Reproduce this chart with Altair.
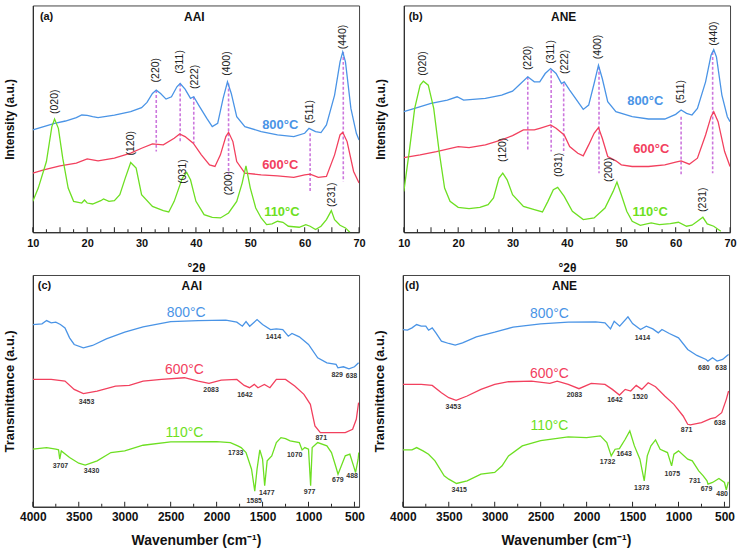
import altair as alt
import pandas as pd

FONT = "Liberation Sans"
BLUE = "#4a94e6"
RED = "#f2405e"
GREEN = "#6ddf22"
PINK = "#cc77dd"
BLUE_T = "#3a63c8"
RED_T = "#ee3050"
GREEN_T = "#66dd11"

# ---------------- (a) XRD AAI ----------------
A800_X = [10, 12, 14, 16, 18, 19, 20, 21, 22, 25, 28, 30, 31, 32, 32.7, 33.5, 34.5, 35.5, 36.5, 37.1, 38, 39, 39.6, 40.5, 42, 43, 44, 45, 45.8, 46.5, 47.5, 49, 52, 55, 58, 60, 60.8, 62, 63, 64, 65.5, 66.5, 67, 67.5, 68.5, 69.5, 70]
A800_Y = [308, 318, 328, 335, 345, 353, 352, 348, 345, 353, 363, 375, 391, 418, 428, 418, 401, 408, 438, 448, 431, 403, 408, 383, 343, 318, 328, 403, 453, 418, 348, 318, 303, 293, 288, 298, 313, 303, 300, 323, 413, 513, 543, 513, 373, 298, 278]
A600_X = [10, 12, 15, 18, 20, 22, 25, 28, 30, 32, 34, 36, 37, 38, 39.5, 41, 42.5, 43.5, 44.5, 45.5, 46, 46.8, 47.5, 49, 52, 55, 58, 60, 61, 62.5, 64, 65.5, 66.5, 67, 67.8, 69, 70]
A600_Y = [178, 188, 200, 208, 221, 215, 223, 238, 253, 266, 263, 283, 296, 288, 268, 233, 203, 198, 233, 288, 301, 273, 213, 178, 173, 170, 165, 173, 175, 165, 168, 233, 293, 301, 273, 183, 148]
A110_X = [10, 11, 12.5, 13.5, 14, 14.7, 15.5, 16.5, 17.5, 19, 19.5, 20, 21, 22.5, 23, 24, 25, 26, 27, 28, 29, 30, 32, 34, 35, 36, 37.5, 38.3, 39, 40, 41.5, 43, 44.5, 46, 47.5, 48.5, 49.2, 50, 51, 52, 53, 54, 55, 56, 57, 59, 60.2, 61, 62, 63, 64, 64.9, 65.5, 66.5, 67.5, 68.3]
A110_Y = [93, 133, 213, 318, 341, 313, 223, 133, 93, 88, 97, 88, 85, 95, 100, 93, 95, 113, 163, 210, 193, 113, 78, 65, 61, 93, 163, 180, 158, 93, 53, 45, 43, 58, 93, 148, 200, 133, 73, 43, 23, 25, 33, 30, 18, 15, 23, 18, 8, 18, 38, 65, 38, 21, 13, 0]
A_RULE_X = [32.7, 37.1, 39.6, 46.0, 61.0, 67.1]
A_RULE_Y1 = [428, 448, 408, 448, 298, 543]
A_RULE_Y2 = [243, 273, 268, 173, 118, 153]
A_HKL = ["(020)", "(220)", "(311)", "(222)", "(400)", "(440)", "(511)", "(120)", "(031)", "(200)", "(231)"]
A_HKL_X = [14.0, 32.7, 37.1, 39.9, 45.8, 67.0, 61.0, 28.0, 37.6, 46.1, 65.0]
A_HKL_Y = [393, 488, 513, 468, 508, 588, 363, 268, 183, 148, 113]
A_T_X = [55.5, 55.5, 55.8]
A_T_Y = [323, 203, 61]

# ---------------- (b) XRD ANE ----------------
B800_X = [10, 12, 15, 18, 19.8, 21, 25, 28, 30, 31.5, 32.8, 34, 35, 36, 37, 38, 39, 39.5, 40.5, 42, 43, 44, 45, 45.8, 46.5, 47.5, 49, 52, 55, 58, 60, 61, 62, 63, 64, 65.5, 66.5, 67, 67.5, 68.5, 69.5, 70]
B800_Y = [363, 373, 388, 398, 408, 398, 403, 413, 425, 448, 468, 453, 453, 478, 493, 478, 448, 453, 428, 393, 370, 383, 448, 503, 463, 393, 363, 348, 341, 341, 355, 368, 358, 353, 373, 453, 533, 550, 528, 413, 348, 333]
B600_X = [10, 13, 16, 20, 22, 25, 28, 30, 32, 34, 35, 37, 38, 39.5, 40.5, 42, 43, 44, 45, 45.8, 46.5, 47.5, 49, 50, 52, 55, 58, 60, 61, 62.5, 64, 65.5, 66.5, 67, 67.8, 69, 70]
B600_Y = [225, 233, 243, 258, 255, 263, 278, 291, 308, 308, 313, 323, 313, 293, 258, 238, 230, 263, 298, 315, 283, 228, 215, 203, 198, 198, 203, 211, 215, 205, 223, 293, 348, 363, 333, 243, 198]
B110_X = [10, 11, 12, 13, 13.6, 14.5, 15.5, 16.5, 17.5, 18.5, 20, 22, 24, 25.5, 26.5, 27.5, 28.2, 29, 30, 32, 34, 35.5, 36.5, 37.5, 38.3, 39.5, 41, 43, 45, 47, 48.5, 49.2, 50, 51, 52, 53.5, 55.5, 57, 59, 60.5, 62, 63, 64, 65, 65.8, 67, 68.3]
B110_Y = [123, 243, 373, 443, 455, 443, 373, 243, 133, 93, 75, 71, 75, 83, 103, 163, 178, 158, 113, 78, 68, 61, 93, 128, 135, 108, 63, 38, 43, 73, 123, 151, 113, 63, 33, 21, 28, 23, 26, 30, 18, 21, 33, 45, 25, 18, 3]
B_RULE_X = [32.8, 37.1, 39.4, 45.9, 61.0, 66.8]
B_RULE_Y1 = [468, 488, 448, 498, 348, 543]
B_RULE_Y2 = [243, 243, 238, 178, 173, 178]
B_HKL = ["(020)", "(220)", "(311)", "(222)", "(400)", "(440)", "(511)", "(120)", "(031)", "(200)", "(231)"]
B_HKL_X = [13.6, 32.8, 37.1, 39.6, 45.8, 67.0, 61.0, 28.2, 38.5, 47.7, 65.0]
B_HKL_Y = [508, 525, 543, 513, 558, 598, 423, 248, 203, 188, 98]
B_T_X = [54.4, 55.5, 55.3]
B_T_Y = [396, 250, 61]

# ---------------- (c) FTIR AAI ----------------
C800_X = [4000, 3900, 3850, 3800, 3750, 3700, 3650, 3600, 3550, 3450, 3350, 3200, 3000, 2800, 2500, 2200, 1900, 1780, 1720, 1680, 1640, 1560, 1500, 1414, 1350, 1280, 1220, 1180, 1100, 1000, 900, 800, 700, 680, 620, 560, 500, 455]
C800_Y = [548, 550, 560, 553, 555, 548, 538, 508, 488, 478, 485, 505, 525, 541, 557, 560, 561, 555, 543, 557, 543, 563, 548, 533, 535, 533, 513, 521, 511, 488, 448, 433, 428, 418, 421, 415, 421, 433]
C600_X = [4000, 3800, 3650, 3550, 3450, 3300, 3100, 2950, 2800, 2600, 2350, 2200, 2083, 1950, 1780, 1700, 1642, 1590, 1550, 1480, 1420, 1350, 1250, 1150, 1050, 980, 930, 871, 700, 600, 520, 480, 455]
C600_Y = [383, 383, 378, 353, 340, 348, 363, 365, 378, 383, 388, 378, 371, 381, 383, 365, 358, 368, 358, 368, 358, 383, 383, 363, 338, 308, 243, 223, 223, 223, 233, 263, 313]
C110_X = [4000, 3850, 3750, 3720, 3707, 3690, 3600, 3500, 3430, 3300, 3150, 3000, 2800, 2500, 2000, 1850, 1770, 1733, 1680, 1620, 1585, 1560, 1530, 1500, 1477, 1450, 1400, 1350, 1300, 1250, 1200, 1100, 1070, 1040, 1000, 977, 960, 900, 800, 750, 700, 679, 650, 600, 550, 510, 488, 460, 453]
C110_Y = [173, 178, 173, 171, 143, 168, 148, 131, 125, 138, 163, 168, 185, 195, 196, 193, 183, 178, 163, 113, 47, 113, 171, 143, 63, 138, 153, 193, 208, 205, 198, 193, 171, 178, 173, 63, 178, 193, 183, 163, 118, 98, 118, 153, 158, 123, 103, 143, 163]
C_LAB = ["1414", "829", "638", "3453", "2083", "1642", "871", "3707", "3430", "1733", "1585", "1477", "1070", "977", "679", "488"]
C_LAB_X = [1382, 688, 533, 3415, 2061, 1692, 862, 3700, 3361, 1793, 1591, 1454, 1151, 988, 681, 526]
C_LAB_Y = [511, 397, 392, 315, 350, 336, 206, 123, 106, 161, 18, 40, 157, 45, 79, 93]
C_T_X = [2332, 2350, 2350]
C_T_Y = [583, 411, 223]

# ---------------- (d) FTIR ANE ----------------
D800_X = [4000, 3950, 3900, 3850, 3800, 3750, 3720, 3680, 3640, 3580, 3500, 3430, 3350, 3200, 3000, 2900, 2800, 2500, 2200, 1900, 1800, 1740, 1700, 1640, 1550, 1500, 1414, 1350, 1280, 1220, 1180, 1100, 1000, 900, 800, 700, 680, 630, 580, 520, 470, 455]
D800_Y = [533, 531, 538, 548, 543, 543, 531, 538, 523, 498, 491, 486, 493, 511, 525, 533, 540, 550, 555, 556, 553, 535, 558, 543, 571, 551, 533, 543, 535, 523, 533, 521, 508, 473, 455, 443, 438, 448, 438, 443, 455, 458]
D600_X = [4000, 3800, 3680, 3580, 3500, 3420, 3300, 3150, 3000, 2850, 2600, 2400, 2320, 2200, 2083, 1950, 1800, 1720, 1642, 1580, 1520, 1460, 1400, 1330, 1250, 1150, 1050, 950, 900, 871, 750, 650, 600, 530, 480, 455]
D600_Y = [368, 368, 365, 343, 328, 320, 333, 353, 368, 376, 378, 371, 378, 368, 355, 371, 368, 353, 336, 353, 348, 365, 353, 373, 361, 333, 308, 273, 248, 246, 253, 265, 268, 283, 323, 348]
D110_X = [4000, 3900, 3850, 3780, 3720, 3650, 3550, 3500, 3416, 3300, 3150, 3000, 2920, 2850, 2700, 2500, 2200, 2000, 1850, 1780, 1732, 1690, 1643, 1580, 1530, 1480, 1420, 1373, 1340, 1300, 1250, 1200, 1120, 1075, 1050, 1000, 900, 850, 780, 731, 690, 679, 630, 560, 500, 480, 460, 453]
D110_Y = [171, 171, 178, 168, 158, 138, 93, 83, 70, 78, 98, 103, 123, 153, 183, 199, 210, 208, 213, 193, 153, 173, 175, 203, 228, 183, 143, 78, 153, 183, 201, 173, 163, 123, 158, 168, 143, 138, 108, 93, 78, 68, 73, 85, 73, 51, 73, 73]
D_LAB = ["1414", "680", "638", "3453", "2083", "1642", "1520", "871", "638", "3415", "1732", "1643", "1373", "1075", "731", "679", "480"]
D_LAB_X = [1393, 724, 537, 3451, 2133, 1692, 1418, 912, 551, 3386, 1772, 1591, 1400, 1068, 822, 696, 526]
D_LAB_Y = [508, 418, 418, 300, 336, 321, 331, 231, 251, 50, 135, 158, 56, 98, 78, 53, 38]
D_T_X = [2404, 2404, 2404]
D_T_Y = [580, 400, 243]

TEMPS = ["800", "600", "110"]
TEMP_TEXT = ["800\u00b0C", "600\u00b0C", "110\u00b0C"]

W = 328
HT = 228
HB = 233


def series_df(xs, ys, xf, yf):
    rows = []
    for (x, y, t) in zip(xs, ys, TEMPS):
        for a, b in zip(x, y):
            rows.append({xf: a, yf: b, "s": t})
    return pd.DataFrame(rows)


def panel(kind, lines, labels, lab_x, lab_y, temp_x, temp_y, tag, name, tag_x, name_x,
          rules=None):
    if kind == "xrd":
        xf, yf = "theta", "I"
        xscale = alt.Scale(domain=[10, 70], nice=False, zero=False)
        yscale = alt.Scale(domain=[0, 683], nice=False, zero=False)
        H = HT
        xtitle = "\u00b02\u03b8"
        ytitle = "Intensity (a.u.)"
        xvals = list(range(10, 71, 5))
        minor = [v + 2.5 for v in range(10, 70, 5)]
        xt_size, yt_size, tick_size = 12, 12, 11
        tpad = 14
        top_y = 648
    else:
        xf, yf = "wn", "T"
        xscale = alt.Scale(domain=[450, 4000], nice=False, zero=False, reverse=True)
        yscale = alt.Scale(domain=[0, 697], nice=False, zero=False)
        H = HB
        xtitle = "Wavenumber (cm\u207b\u00b9)"
        ytitle = "Transmittance (a.u.)"
        xvals = list(range(500, 4001, 500))
        minor = [v + 250 for v in range(500, 4000, 500)]
        xt_size, yt_size, tick_size = 14, 13, 12
        tpad = 11
        top_y = 663

    xenc = alt.X(f"{xf}:Q", scale=xscale,
                 axis=alt.Axis(values=xvals, ticks=False, format="d", title=xtitle,
                               labelFont=FONT, labelFontWeight="bold", labelFontSize=tick_size,
                               labelColor="#111", labelPadding=5,
                               titleFont=FONT, titleFontWeight="bold", titleFontSize=xt_size,
                               titleColor="#111", titlePadding=tpad, domainColor="#222",
                               grid=False, labelFlush=False))
    yenc = alt.Y(f"{yf}:Q", scale=yscale,
                 axis=alt.Axis(labels=False, ticks=False, title=ytitle, titleFont=FONT,
                               titleFontWeight="bold", titleFontSize=yt_size,
                               titleColor="#111", titlePadding=16, domainColor="#222",
                               grid=False))

    df = series_df(lines[0], lines[1], xf, yf)
    line = alt.Chart(df).mark_line(strokeWidth=1.3, clip=True).encode(
        x=xenc, y=yenc,
        color=alt.Color("s:N", scale=alt.Scale(domain=TEMPS, range=[BLUE, RED, GREEN]),
                        legend=None),
        detail="s:N",
    )
    layers = []

    if rules is not None:
        rdf = pd.DataFrame({xf: rules[0], "y1": rules[1], "y2": rules[2]})
        layers.append(alt.Chart(rdf).mark_rule(color=PINK, strokeDash=[3, 2],
                                               strokeWidth=1.6).encode(
            x=alt.X(f"{xf}:Q", scale=xscale),
            y=alt.Y("y1:Q", scale=yscale),
            y2="y2:Q"))
    layers.append(line)

    ldf = pd.DataFrame({xf: lab_x, yf: lab_y, "t": labels})
    if kind == "xrd":
        lab = alt.Chart(ldf).mark_text(font=FONT, fontSize=10.5, angle=270, color="#222",
                                       align="center", baseline="middle").encode(
            x=alt.X(f"{xf}:Q", scale=xscale), y=alt.Y(f"{yf}:Q", scale=yscale), text="t:N")
        tdf = pd.DataFrame({xf: temp_x, yf: temp_y, "t": TEMP_TEXT, "s": TEMPS})
        temp = alt.Chart(tdf).mark_text(font=FONT, fontSize=13, fontWeight="bold",
                                        align="center", baseline="middle").encode(
            x=alt.X(f"{xf}:Q", scale=xscale), y=alt.Y(f"{yf}:Q", scale=yscale), text="t:N",
            color=alt.Color("s:N", scale=alt.Scale(domain=TEMPS, range=[BLUE_T, RED_T, GREEN_T]),
                            legend=None))
    else:
        lab = alt.Chart(ldf).mark_text(font=FONT, fontSize=7, fontWeight="bold", color="#333",
                                       align="center", baseline="middle").encode(
            x=alt.X(f"{xf}:Q", scale=xscale), y=alt.Y(f"{yf}:Q", scale=yscale), text="t:N")
        tdf = pd.DataFrame({xf: temp_x, yf: temp_y, "t": TEMP_TEXT, "s": TEMPS})
        temp = alt.Chart(tdf).mark_text(font=FONT, fontSize=14,
                                        align="center", baseline="middle").encode(
            x=alt.X(f"{xf}:Q", scale=xscale), y=alt.Y(f"{yf}:Q", scale=yscale), text="t:N",
            color=alt.Color("s:N", scale=alt.Scale(domain=TEMPS, range=[BLUE, RED, GREEN]),
                            legend=None))
    layers += [lab, temp]

    hdf = pd.DataFrame({xf: [tag_x, name_x], yf: [top_y, top_y], "t": [tag, name]})
    layers.append(alt.Chart(hdf.iloc[[0]]).mark_text(font=FONT, fontSize=11, fontWeight="bold",
                                                     color="#111", align="left",
                                                     baseline="middle").encode(
        x=alt.X(f"{xf}:Q", scale=xscale), y=alt.Y(f"{yf}:Q", scale=yscale), text="t:N"))
    layers.append(alt.Chart(hdf.iloc[[1]]).mark_text(font=FONT, fontSize=12, fontWeight="bold",
                                                     color="#111", align="center",
                                                     baseline="middle").encode(
        x=alt.X(f"{xf}:Q", scale=xscale), y=alt.Y(f"{yf}:Q", scale=yscale), text="t:N"))

    # inward ticks
    mdf = pd.DataFrame({xf: xvals})
    layers.append(alt.Chart(mdf).mark_rule(color="#222", strokeWidth=1).encode(
        x=alt.X(f"{xf}:Q", scale=xscale), y=alt.value(H), y2=alt.value(H - 5)))
    ndf = pd.DataFrame({xf: minor})
    layers.append(alt.Chart(ndf).mark_rule(color="#222", strokeWidth=1).encode(
        x=alt.X(f"{xf}:Q", scale=xscale), y=alt.value(H), y2=alt.value(H - 3)))

    return alt.layer(*layers).properties(width=W, height=H)


pa = panel("xrd", ([A800_X, A600_X, A110_X], [A800_Y, A600_Y, A110_Y]), A_HKL, A_HKL_X, A_HKL_Y,
           A_T_X, A_T_Y, "(a)", "AAI", 11.3, 39.7, rules=(A_RULE_X, A_RULE_Y1, A_RULE_Y2))
pb = panel("xrd", ([B800_X, B600_X, B110_X], [B800_Y, B600_Y, B110_Y]), B_HKL, B_HKL_X, B_HKL_Y,
           B_T_X, B_T_Y, "(b)", "ANE", 10.9, 39.4, rules=(B_RULE_X, B_RULE_Y1, B_RULE_Y2))
pc = panel("ftir", ([C800_X, C600_X, C110_X], [C800_Y, C600_Y, C110_Y]), C_LAB, C_LAB_X, C_LAB_Y,
           C_T_X, C_T_Y, "(c)", "AAI", 3946, 2270)
pd_ = panel("ftir", ([D800_X, D600_X, D110_X], [D800_Y, D600_Y, D110_Y]), D_LAB, D_LAB_X, D_LAB_Y,
            D_T_X, D_T_Y, "(d)", "ANE", 3975, 2241)

top = alt.hconcat(pa, pb, spacing=8).resolve_scale(x="independent", y="independent")
bot = alt.hconcat(pc, pd_, spacing=8).resolve_scale(x="independent", y="independent")
chart = alt.vconcat(top, bot, spacing=0).resolve_scale(
    x="independent", y="independent", color="independent"
).properties(
    padding={"left": 3, "top": 3, "right": 2, "bottom": 0},
    background="white",
).configure_view(stroke="#444", strokeWidth=1)

chart.save("out.html", embed_options={"renderer": "svg", "actions": False})
